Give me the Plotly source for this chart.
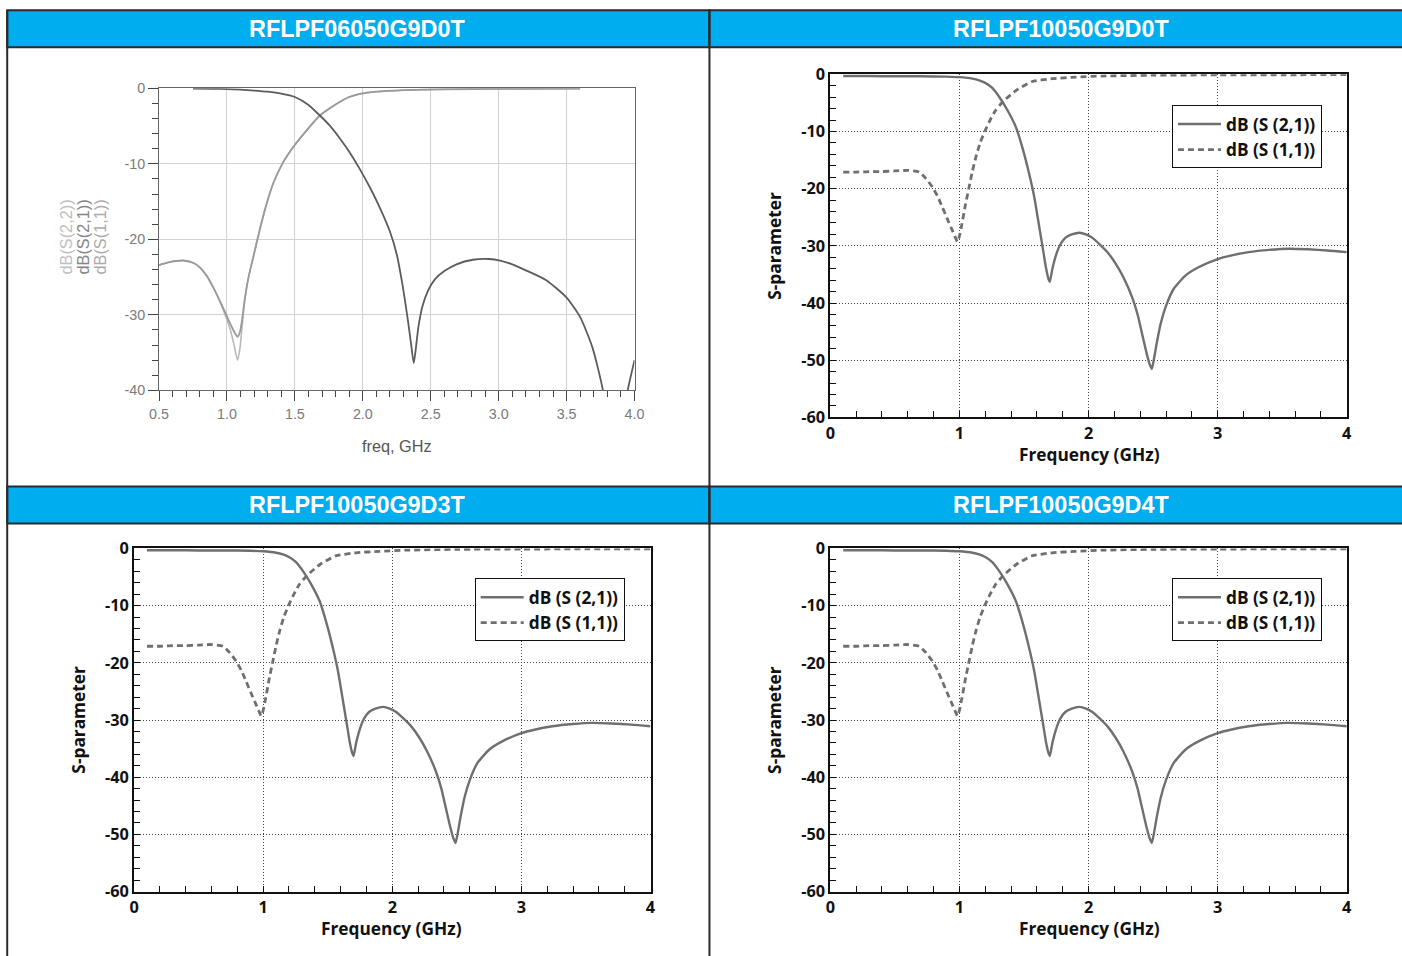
import plotly.graph_objects as go

W, H = 1402, 956

# ---------------- data ----------------
titles = ["RFLPF06050G9D0T", "RFLPF10050G9D0T", "RFLPF10050G9D3T", "RFLPF10050G9D4T"]

# chart A (RFLPF06050G9D0T)
a_freq_s21 = [0.75, 0.9, 1.0, 1.1, 1.2, 1.3, 1.4, 1.5, 1.6, 1.684, 1.76, 1.83, 1.9, 1.978, 2.06,
              2.13, 2.2, 2.25, 2.29, 2.33, 2.355, 2.375, 2.39, 2.41, 2.44, 2.48, 2.53, 2.6, 2.69,
              2.81, 2.93, 3.01, 3.1, 3.2, 3.35, 3.5, 3.6, 3.69, 3.765, 3.8, 3.87, 3.93, 3.95, 4.0]
a_s21 = [-0.05, -0.06, -0.1, -0.18, -0.3, -0.45, -0.7, -1.15, -2.2, -3.6, -5.0, -6.6, -8.4, -10.7,
         -13.4, -16.0, -19.0, -22.0, -25.8, -30.5, -33.8, -36.4, -34.5, -31.5, -28.8, -26.8, -25.3,
         -24.2, -23.3, -22.7, -22.6, -22.8, -23.3, -24.1, -25.4, -27.7, -30.3, -34.3, -39.8, -45.0,
         -60.0, -43.0, -40.0, -36.0]

a_freq_s11 = [0.5, 0.58, 0.676, 0.75, 0.8, 0.85, 0.897, 0.97, 1.022, 1.055, 1.078, 1.095, 1.11,
              1.13, 1.16, 1.193, 1.243, 1.29, 1.34, 1.41, 1.487, 1.585, 1.684, 1.76, 1.83, 1.9,
              1.978, 2.1, 2.3, 2.6, 3.0, 3.6]
a_s11 = [-23.4, -23.0, -22.8, -23.1, -23.7, -24.8, -26.3, -29.0, -31.1, -32.3, -32.9, -32.3, -30.8,
         -28.0, -24.9, -22.4, -18.6, -15.4, -12.6, -9.9, -7.8, -5.6, -3.6, -2.6, -1.8, -1.15, -0.75,
         -0.45, -0.25, -0.12, -0.07, -0.05]

a_freq_s22 = [0.5, 0.58, 0.676, 0.75, 0.8, 0.85, 0.897, 0.97, 1.022, 1.05, 1.078, 1.095, 1.11,
              1.13, 1.16, 1.193, 1.243, 1.29, 1.34, 1.41, 1.487, 1.585, 1.684, 1.76, 1.83, 1.9,
              1.978, 2.1, 2.3, 2.6, 3.0, 3.6]
a_s22 = [-23.4, -23.0, -22.8, -23.1, -23.7, -24.8, -26.3, -29.2, -31.8, -33.8, -36.0, -34.5, -31.8,
         -28.3, -24.9, -22.4, -18.6, -15.4, -12.6, -9.9, -7.8, -5.6, -3.6, -2.6, -1.8, -1.15, -0.75,
         -0.45, -0.25, -0.12, -0.07, -0.05]

# charts B (RFLPF10050G9D0T / D3T / D4T share the same response)
b_freq_s21 = [0.1, 0.3, 0.5, 0.7, 0.9, 1.0, 1.1, 1.153, 1.2, 1.25, 1.31, 1.37, 1.437, 1.49, 1.54,
              1.58, 1.617, 1.65, 1.67, 1.69, 1.70, 1.72, 1.75, 1.78, 1.82, 1.87, 1.93, 1.98, 2.03,
              2.08, 2.15, 2.21, 2.27, 2.338, 2.38, 2.415, 2.45, 2.475, 2.49, 2.505, 2.53, 2.56,
              2.6, 2.66, 2.75, 2.855, 3.0, 3.1, 3.24, 3.4, 3.55, 3.7, 3.85, 4.0]
b_s21 = [-0.3, -0.3, -0.35, -0.35, -0.4, -0.5, -0.75, -1.05, -1.5, -2.3, -4.0, -6.2, -9.2, -13.0,
         -17.4, -21.5, -26.5, -31.0, -33.8, -35.8, -36.3, -34.0, -31.5, -29.8, -28.6, -28.0, -27.7,
         -28.0, -28.6, -29.6, -31.2, -33.1, -35.5, -39.0, -42.0, -45.4, -48.8, -50.8, -51.5, -50.0,
         -46.8, -43.5, -40.5, -37.5, -35.2, -33.7, -32.3, -31.7, -31.1, -30.7, -30.5, -30.6, -30.8,
         -31.1]

b_freq_s11 = [0.1, 0.2, 0.3, 0.4, 0.5, 0.6, 0.689, 0.74, 0.79, 0.83, 0.867, 0.91, 0.945, 0.97,
              0.985, 1.0, 1.02, 1.045, 1.075, 1.1, 1.127, 1.16, 1.2, 1.24, 1.28, 1.32, 1.36, 1.44,
              1.56, 1.72, 1.9, 2.1, 2.5, 3.0, 3.5, 4.0]
b_s11 = [-17.1, -17.1, -17.0, -17.0, -16.9, -16.8, -17.1, -18.2, -19.7, -21.3, -23.2, -25.5, -27.3,
         -28.6, -29.3, -28.3, -26.1, -23.0, -19.7, -17.0, -14.5, -12.0, -9.8, -7.9, -6.3, -5.2, -4.3,
         -2.8, -1.3, -0.76, -0.5, -0.3, -0.15, -0.1, -0.08, -0.05]

a_xticks = [0.5, 1.0, 1.5, 2.0, 2.5, 3.0, 3.5, 4.0]
a_yticks = [-40, -30, -20, -10, 0]
b_xticks = [0, 1, 2, 3, 4]
b_yticks = [-60, -50, -40, -30, -20, -10, 0]

a_label_s22 = "dB(S(2,2))"
a_label_s21 = "dB(S(2,1))"
a_label_s11 = "dB(S(1,1))"
b_label_s21 = "dB (S (2,1))"
b_label_s11 = "dB (S (1,1))"

# ---------------- placement helpers ----------------
# The captured picture shows the page slightly inset and scaled; layout positions
# are given in target-picture pixels and mapped back to page pixels here.
SX, OX = 0.9868, 9.8
SY, OY = 0.9767, 10.7
FS = 1.0 / 0.982  # font compensation for that scaling


def px(x):
    return ((x - OX) / SX) / W


def py(y):
    return 1 - ((y - OY) / SY) / H


def fsz(s):
    return round(s * FS, 1)


BLUE = "#00ADEE"
BORDER = "#2b2b2b"
ARIAL = "Liberation Sans, Arial, sans-serif"
MYRIAD = "Open Sans, Noto Sans, sans-serif"

fig = go.Figure()

# chart A traces
fig.add_trace(go.Scatter(x=a_freq_s22, y=a_s22, mode="lines", xaxis="x", yaxis="y",
                         line=dict(color="#b8b8b8", width=1.6, shape="spline", smoothing=0.6),
                         showlegend=False, name=a_label_s22))
fig.add_trace(go.Scatter(x=a_freq_s11, y=a_s11, mode="lines", xaxis="x", yaxis="y",
                         line=dict(color="#9a9a9a", width=1.8, shape="spline", smoothing=0.6),
                         showlegend=False, name=a_label_s11))
fig.add_trace(go.Scatter(x=a_freq_s21, y=a_s21, mode="lines", xaxis="x", yaxis="y",
                         line=dict(color="#5c5c5c", width=1.8, shape="spline", smoothing=0.6),
                         showlegend=False, name=a_label_s21))

# charts B traces
for xa, ya, lg in [("x2", "y2", "legend"), ("x3", "y3", "legend2"), ("x4", "y4", "legend3")]:
    fig.add_trace(go.Scatter(x=b_freq_s21, y=b_s21, mode="lines", xaxis=xa, yaxis=ya,
                             line=dict(color="#6f6f6f", width=2.4, shape="spline", smoothing=0.5),
                             name=b_label_s21, legend=lg, showlegend=True))
    fig.add_trace(go.Scatter(x=b_freq_s11, y=b_s11, mode="lines", xaxis=xa, yaxis=ya,
                             line=dict(color="#6f6f6f", width=2.8, dash="6px,4px",
                                       shape="spline", smoothing=0.5),
                             name=b_label_s11, legend=lg, showlegend=True))

layout = dict(
    width=W, height=H, autosize=False,
    margin=dict(l=0, r=0, t=0, b=0),
    paper_bgcolor="white", plot_bgcolor="white",
)

# chart A axes
tickfont_a = dict(family=ARIAL, size=fsz(14), color="#7a7a7a")
layout["xaxis"] = dict(
    domain=[px(159), px(635)], range=[0.5, 4.0], anchor="y",
    tickmode="array", tickvals=a_xticks, ticktext=["%.1f" % v for v in a_xticks],
    ticks="outside", ticklen=10, tickwidth=1, tickcolor="#444",
    minor=dict(tickmode="linear", tick0=0.5, dtick=0.1, ticks="outside", ticklen=6,
               tickwidth=1, tickcolor="#444", showgrid=False),
    showgrid=True, gridcolor="#d2d2d2", gridwidth=1,
    showline=True, linecolor="#666", linewidth=1, mirror=True,
    zeroline=False, tickfont=tickfont_a,
)
layout["yaxis"] = dict(
    domain=[py(390), py(88)], range=[-40, 0], anchor="x",
    tickmode="array", tickvals=a_yticks, ticktext=[str(v) for v in a_yticks],
    ticks="outside", ticklen=10, tickwidth=1, tickcolor="#444",
    minor=dict(tickmode="linear", tick0=0, dtick=2, ticks="outside", ticklen=6,
               tickwidth=1, tickcolor="#444", showgrid=False),
    showgrid=True, gridcolor="#d2d2d2", gridwidth=1,
    showline=True, linecolor="#666", linewidth=1, mirror=True,
    zeroline=False, tickfont=tickfont_a,
)

# charts B axes
tickfont_b = dict(family=MYRIAD, size=fsz(16), color="#111", weight=700)
boxes_b = {
    "2": (831, 1348, 74, 417),
    "3": (134, 651, 548, 891),
    "4": (831, 1348, 548, 891),
}
for k, (x0, x1, y0, y1) in boxes_b.items():
    layout["xaxis" + k] = dict(
        domain=[px(x0), px(x1)], range=[0, 4], anchor="y" + k,
        tickmode="array", tickvals=b_xticks, ticktext=[str(v) for v in b_xticks],
        ticks="inside", ticklen=6, tickwidth=1.2, tickcolor="#111",
        minor=dict(tickmode="linear", tick0=0, dtick=0.2, ticks="inside", ticklen=6,
                   tickwidth=1.2, tickcolor="#111", showgrid=False),
        showgrid=True, gridcolor="#444", gridwidth=1, griddash="1px,2px",
        showline=True, linecolor="#111", linewidth=2, mirror=True,
        zeroline=False, tickfont=tickfont_b,
    )
    layout["yaxis" + k] = dict(
        domain=[py(y1), py(y0)], range=[-60, 0], anchor="x" + k,
        tickmode="array", tickvals=b_yticks, ticktext=[str(v) for v in b_yticks],
        ticks="inside", ticklen=6, tickwidth=1.2, tickcolor="#111",
        minor=dict(tickmode="linear", tick0=0, dtick=2, ticks="inside", ticklen=6,
                   tickwidth=1.2, tickcolor="#111", showgrid=False),
        showgrid=True, gridcolor="#444", gridwidth=1, griddash="1px,2px",
        showline=True, linecolor="#111", linewidth=2, mirror=True,
        zeroline=False, tickfont=tickfont_b,
    )

# legends
leg_font = dict(family=MYRIAD, size=fsz(17), color="#111", weight=700)
for name, (lx, ly) in [("legend", (1173, 105)), ("legend2", (475, 578)), ("legend3", (1173, 578))]:
    layout[name] = dict(
        x=px(lx), y=py(ly), xanchor="left", yanchor="top",
        bgcolor="white", bordercolor="#111", borderwidth=1,
        font=leg_font, itemwidth=43, tracegroupgap=0,
    )

# table shapes
shapes = []
for (yt, yb) in [(10, 47), (486, 523)]:
    shapes.append(dict(type="rect", xref="paper", yref="paper",
                       x0=px(7), x1=px(710), y0=py(yb), y1=py(yt),
                       fillcolor=BLUE, line=dict(color=BORDER, width=2)))
    shapes.append(dict(type="rect", xref="paper", yref="paper",
                       x0=px(710), x1=px(1440), y0=py(yb), y1=py(yt),
                       fillcolor=BLUE, line=dict(color=BORDER, width=2)))
for xv in [7, 710]:
    shapes.append(dict(type="line", xref="paper", yref="paper",
                       x0=px(xv), x1=px(xv), y0=py(10), y1=py(990),
                       line=dict(color=BORDER, width=2)))
layout["shapes"] = shapes

# annotations
ann = []
head_pos = [(358, 28.5), (1062, 28.5), (358, 505), (1062, 505)]
for t, (hx, hyy) in zip(titles, head_pos):
    ann.append(dict(text=t, xref="paper", yref="paper", x=px(hx), y=py(hyy),
                    xanchor="center", yanchor="middle", showarrow=False,
                    font=dict(family=ARIAL, size=fsz(23), color="white", weight=700)))

# chart A axis labels
ann.append(dict(text="freq, GHz", xref="paper", yref="paper", x=px(397), y=py(446),
                xanchor="center", yanchor="middle", showarrow=False,
                font=dict(family=ARIAL, size=fsz(16), color="#555")))
for lbl, xx, col in [(a_label_s22, 66, "#c0c0c0"), (a_label_s21, 83, "#858585"),
                     (a_label_s11, 100, "#ababab")]:
    ann.append(dict(text=lbl, xref="paper", yref="paper", x=px(xx), y=py(237),
                    xanchor="center", yanchor="middle", showarrow=False, textangle=-90,
                    font=dict(family=ARIAL, size=fsz(16), color=col)))

# charts B axis labels
for (ytx, yty, xtx, xty) in [(775, 245, 1090, 454), (78, 719, 392, 928), (775, 719, 1090, 928)]:
    ann.append(dict(text="S-parameter", xref="paper", yref="paper", x=px(ytx), y=py(yty),
                    xanchor="center", yanchor="middle", showarrow=False, textangle=-90,
                    font=dict(family=MYRIAD, size=fsz(17), color="#111", weight=700)))
    ann.append(dict(text="Frequency (GHz)", xref="paper", yref="paper", x=px(xtx), y=py(xty),
                    xanchor="center", yanchor="middle", showarrow=False,
                    font=dict(family=MYRIAD, size=fsz(17), color="#111", weight=700)))
layout["annotations"] = ann

fig.update_layout(**layout)
fig.write_html(
    "out.html",
    config={"displayModeBar": False},
    post_script=(
        "document.documentElement.style.margin='0';"
        "document.body.style.margin='0';document.body.style.padding='0';"
        "document.documentElement.style.overflow='hidden';document.body.style.overflow='hidden';"
        "var d=document.getElementById('{plot_id}');"
        "d.style.position='fixed';d.style.left='0px';d.style.top='0px';"
    ),
)
